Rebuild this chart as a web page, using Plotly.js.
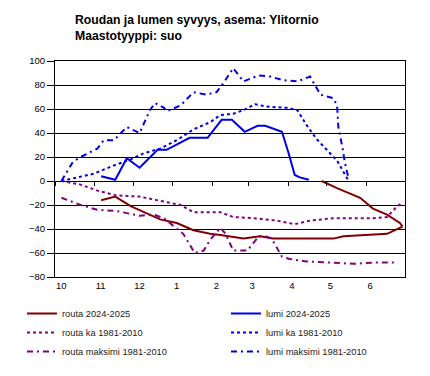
<!DOCTYPE html>
<html>
<head>
<meta charset="utf-8">
<script src="https://cdn.plot.ly/plotly-3.0.1.min.js"></script>
<style>html,body{margin:0;padding:0;background:#fff;}#chart{width:430px;height:376px;}</style>
</head>
<body>
<div id="chart"></div>
<script>
// x values: days since 1 October 2024
var monthStarts = [0, 31, 61, 92, 123, 151, 182, 212, 243, 273];
var monthLabels = ['10', '11', '12', '1', '2', '3', '4', '5', '6'];

var routaLowerDays = [36, 47, 59, 72, 82, 95, 108, 121, 129, 147, 160, 170, 191, 217, 225, 243, 259, 269, 271];
var routaLowerVals = [-16, -13, -21, -27, -32, -35, -41, -44, -45, -48, -46, -48, -48, -48, -46, -45, -44, -39, -38];
var routaUpperDays = [208, 220, 238, 248, 259, 269, 271];
var routaUpperVals = [0, -6, -14, -23, -28, -35, -38];

var lumiDays = [36, 47, 56, 66, 80, 87, 105, 119, 130, 138, 148, 158, 164, 177, 182, 187, 191, 198];
var lumiVals = [4, 1, 19, 11, 26, 26, 36, 36, 51, 51, 41, 46, 46, 41, 24, 5, 3, 1];

var routaKaDays = [5, 20, 33, 48, 66, 85, 98, 108, 118, 129, 139, 155, 173, 187, 199, 217, 230, 248, 259, 266, 271];
var routaKaVals = [0, -3, -8, -12, -13, -17, -20, -26, -26, -26, -30, -31, -33, -36, -33, -31, -31, -31, -30, -22, -18];

var lumiKaDays = [5, 14, 30, 46, 59, 69, 82, 95, 108, 121, 129, 139, 147, 156, 165, 181, 189, 196, 204, 212, 220, 228, 229];
var lumiKaVals = [0, 2, 6, 13, 18, 23, 27, 34, 43, 49, 55, 56, 59, 64, 62, 61, 59, 47, 35, 26, 17, 2, 0];

var routaMaxDays = [5, 20, 33, 48, 66, 77, 85, 92, 100, 109, 116, 121, 129, 133, 139, 150, 155, 159, 164, 169, 177, 183, 196, 217, 233, 248, 267];
var routaMaxVals = [-14, -20, -24, -25, -29, -28, -31, -37, -44, -60, -58, -49, -39, -44, -58, -58, -51, -46, -46, -48, -63, -65, -67, -68, -69, -68, -68];

var lumiMaxDays = [5, 14, 20, 33, 38, 46, 56, 66, 74, 78, 85, 87, 98, 108, 118, 126, 131, 139, 147, 159, 168, 178, 189, 199, 207, 217, 220, 221, 224, 226, 229];
var lumiMaxVals = [0, 16, 20, 27, 34, 34, 45, 40, 59, 65, 61, 58, 63, 74, 72, 74, 81, 94, 83, 88, 87, 84, 83, 87, 72, 69, 63, 45, 29, 16, 2];

var seriesNames = ['routa 2024-2025', 'lumi 2024-2025', 'routa ka 1981-2010', 'lumi ka 1981-2010', 'routa maksimi 1981-2010', 'lumi maksimi 1981-2010'];

var RED = '#800000', BLUE = '#0000e6', PURPLE = '#800080';
var DASHDOT = '6px,4px,2px,4px';
var FONT = 'Liberation Sans, Arial, sans-serif';

var traces = [
  {x: routaLowerDays.concat([null], routaUpperDays), y: routaLowerVals.concat([null], routaUpperVals),
   name: seriesNames[0], mode: 'lines', line: {color: RED, width: 2}},
  {x: lumiDays, y: lumiVals, name: seriesNames[1], mode: 'lines', line: {color: BLUE, width: 2}},
  {x: routaKaDays, y: routaKaVals, name: seriesNames[2], mode: 'lines', line: {color: PURPLE, width: 2, dash: 'dot'}},
  {x: lumiKaDays, y: lumiKaVals, name: seriesNames[3], mode: 'lines', line: {color: BLUE, width: 2, dash: 'dot'}},
  {x: routaMaxDays, y: routaMaxVals, name: seriesNames[4], mode: 'lines', line: {color: PURPLE, width: 2, dash: DASHDOT}},
  {x: lumiMaxDays, y: lumiMaxVals, name: seriesNames[5], mode: 'lines', xaxis: 'x2', line: {color: BLUE, width: 2, dash: DASHDOT}}
];

var layout = {
  width: 430, height: 376,
  margin: {l: 55, r: 25, t: 61, b: 99, pad: 0, autoexpand: false},
  paper_bgcolor: '#fff', plot_bgcolor: '#fff',
  font: {family: FONT, color: '#000'},
  showlegend: true,
  title: {
    text: 'Roudan ja lumen syvyys, asema: Ylitornio<br>Maastotyyppi: suo',
    font: {family: FONT, size: 12.2, weight: 'bold', color: '#000'},
    xref: 'container', yref: 'container',
    x: 75 / 430, xanchor: 'left',
    y: 1 - 24 / 376, yanchor: 'top'
  },
  xaxis: {
    range: [0, 273], tickmode: 'array', tickvals: monthStarts.slice(0, 9), ticktext: monthLabels,
    ticks: 'outside', ticklen: 8, tickcolor: 'rgba(0,0,0,0)',
    ticklabelposition: 'outside right',
    tickfont: {family: FONT, size: 9.5, color: '#000'},
    showgrid: false, zeroline: false,
    showline: true, linecolor: '#000', linewidth: 1, mirror: true,
    fixedrange: true
  },
  xaxis2: {
    overlaying: 'x', matches: 'x', anchor: 'free', position: 80 / 180,
    tickmode: 'array', tickvals: monthStarts,
    ticks: 'outside', ticklen: 4, tickcolor: '#000', tickwidth: 1,
    showticklabels: false, showgrid: false, zeroline: false, showline: false
  },
  yaxis: {
    range: [-80, 100], tick0: 0, dtick: 20,
    ticks: 'outside', ticklen: 7, tickcolor: '#000',
    tickfont: {family: FONT, size: 9.5, color: '#000'},
    showgrid: true, gridcolor: '#000', gridwidth: 1,
    zeroline: false,
    showline: true, linecolor: '#000', linewidth: 1, mirror: true,
    fixedrange: true
  },
  legend: {
    orientation: 'h',
    x: (22 - 55) / 350, xanchor: 'left',
    y: (277 - 299) / 216, yanchor: 'top',
    entrywidth: 159,
    font: {family: FONT, size: 9.3, color: '#222'},
    bgcolor: 'rgba(0,0,0,0)', traceorder: 'normal'
  }
};

Plotly.newPlot('chart', traces, layout, {displayModeBar: false, staticPlot: true});
</script>
</body>
</html>
